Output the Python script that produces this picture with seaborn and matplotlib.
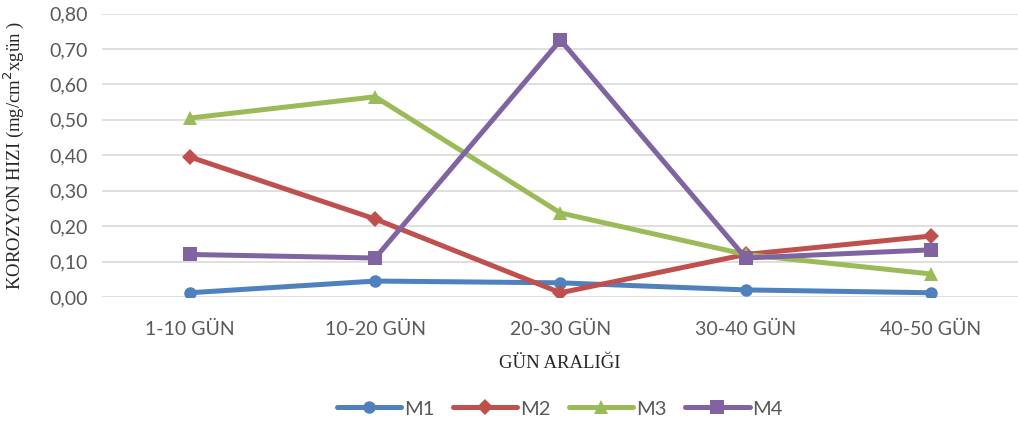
import pandas as pd
import numpy as np
import seaborn as sns
import matplotlib.pyplot as plt
from matplotlib.ticker import FuncFormatter

# Veriler
araliklar = ['1-10 GÜN', '10-20 GÜN', '20-30 GÜN', '30-40 GÜN', '40-50 GÜN']
m1 = [0.012, 0.045, 0.040, 0.020, 0.012]
m2 = [0.395, 0.220, 0.012, 0.120, 0.172]
m3 = [0.505, 0.565, 0.237, 0.120, 0.065]
m4 = [0.120, 0.110, 0.725, 0.110, 0.133]
seriler = ['M1', 'M2', 'M3', 'M4']

data = pd.DataFrame({'aralik': araliklar * 4,
                     'x': list(range(len(araliklar))) * 4,
                     'hiz': m1 + m2 + m3 + m4,
                     'seri': np.repeat(seriler, len(araliklar))})

sns.set_style('white')
plt.rcParams['font.family'] = ['Lato', 'DejaVu Sans']

renkler = {'M1': '#4F81BD', 'M2': '#C0504D', 'M3': '#9BBB59', 'M4': '#8064A2'}
isaretler = {'M1': 'o', 'M2': 'D', 'M3': '^', 'M4': 's'}
boyut = {'M1': 9, 'M2': 8.5, 'M3': 10, 'M4': 10}

fig = plt.figure(figsize=(10.18, 4.25), dpi=100)
ax = fig.add_axes([102 / 1018, 1 - 297 / 425, 916 / 1018, (297 - 13.5) / 425])

for s in seriler:
    d = data[data['seri'] == s]
    sns.lineplot(x='x', y='hiz', data=d, ax=ax, color=renkler[s], marker=isaretler[s],
                 markersize=boyut[s], markeredgewidth=0, linewidth=3.6,
                 label=s, zorder=3)

ax.set_xlim(-0.475, 4.47)
ax.set_ylim(0, 0.8)
ax.set_yticks(np.arange(0, 0.81, 0.1))
ax.yaxis.set_major_formatter(FuncFormatter(lambda v, p: f'{v:.2f}'.replace('.', ',')))
ax.set_xticks(range(len(araliklar)))
ax.set_xticklabels(araliklar)
ax.grid(axis='y', color='#D9D9D9', linewidth=1.2)
ax.set_axisbelow(True)
for sp in ax.spines.values():
    sp.set_visible(False)
ax.tick_params(axis='both', length=0, labelsize=14, labelcolor='#595959')
ax.tick_params(axis='x', pad=17)
ax.tick_params(axis='y', pad=10)

ax.set_xlabel('GÜN ARALIĞI', family='Liberation Serif', fontsize=13.5)
ax.xaxis.set_label_coords(0.5, -0.205)
ax.set_ylabel('KOROZYON HIZI (mg/cm$^2$xgün )', family='Liberation Serif', fontsize=13.5)
ax.yaxis.set_label_coords(-0.083, 0.5)

ax.legend(loc='center', bbox_to_anchor=(0.5, -0.395), ncol=4, frameon=False,
          fontsize=14.5, handlelength=3.2, columnspacing=0.9, handletextpad=0.15,
          labelcolor='#595959')

fig.savefig('out.png', dpi=100)
